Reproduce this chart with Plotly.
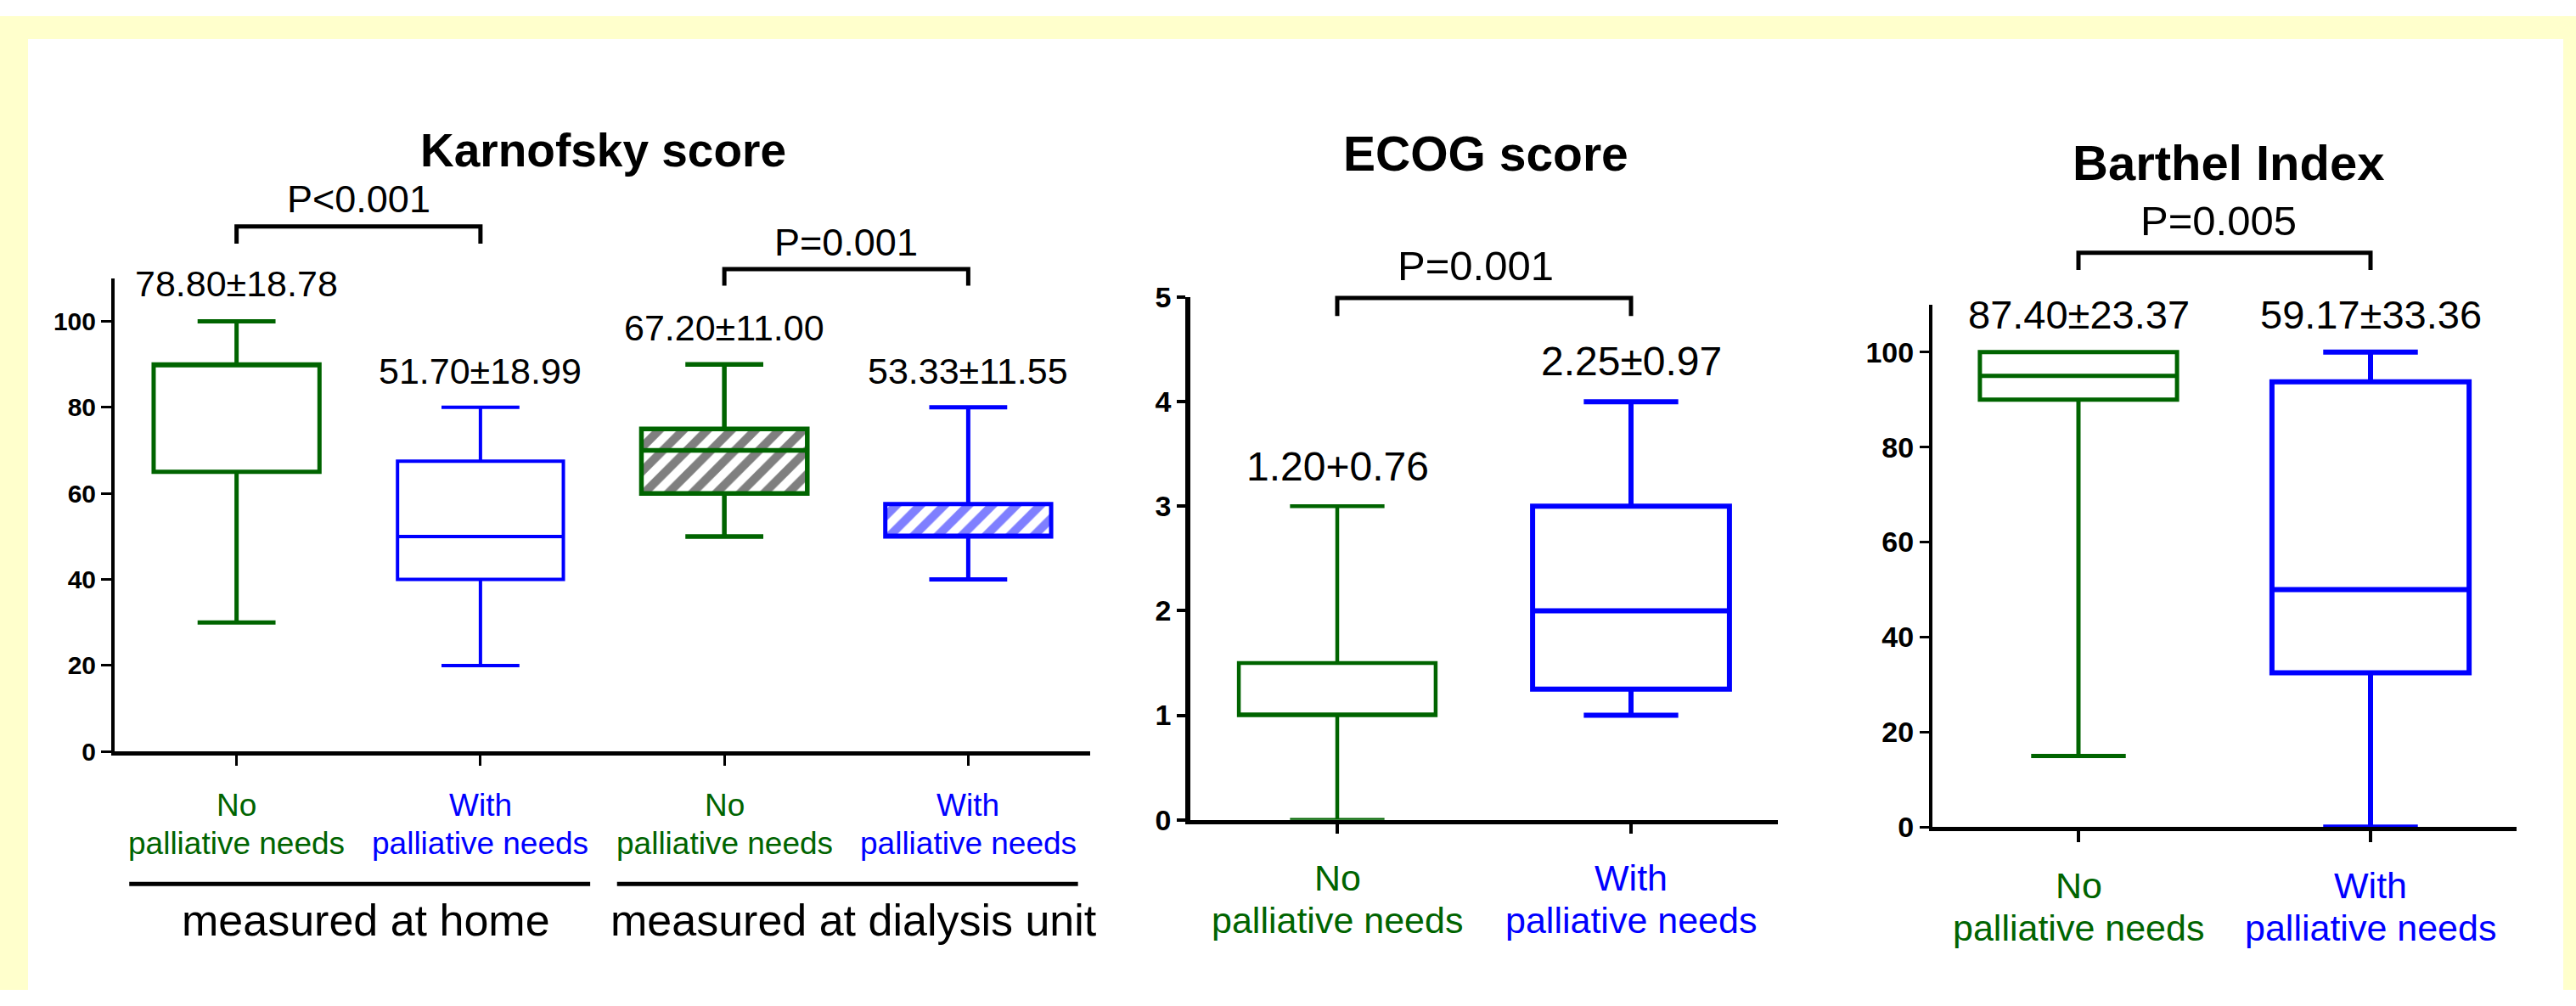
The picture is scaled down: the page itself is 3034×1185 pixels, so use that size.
import plotly.graph_objects as go

# ---------------- data ----------------
karn_group = ["No", "With", "No", "With"]
karn_q1 = [65, 40, 60, 50]
karn_median = [90, 50, 70, 50]
karn_q3 = [90, 67.5, 75, 57.5]
karn_low = [30, 20, 50, 40]
karn_high = [100, 80, 90, 80]
karn_stats = ["78.80±18.78", "51.70±18.99", "67.20±11.00", "53.33±11.55"]
karn_hatched = [False, False, True, True]
karn_pvalues = ["P<0.001", "P=0.001"]
karn_sites = ["measured at home", "measured at dialysis unit"]
karn_ticks = [0, 20, 40, 60, 80, 100]

ecog_group = ["No", "With"]
ecog_q1 = [1, 1.25]
ecog_median = [1, 2]
ecog_q3 = [1.5, 3]
ecog_low = [0, 1]
ecog_high = [3, 4]
ecog_stats = ["1.20+0.76", "2.25±0.97"]
ecog_pvalues = ["P=0.001"]
ecog_ticks = [0, 1, 2, 3, 4, 5]

barthel_group = ["No", "With"]
barthel_q1 = [90, 32.5]
barthel_median = [95, 50]
barthel_q3 = [100, 93.75]
barthel_low = [15, 0]
barthel_high = [100, 100]
barthel_stats = ["87.40±23.37", "59.17±33.36"]
barthel_pvalues = ["P=0.005"]
barthel_ticks = [0, 20, 40, 60, 80, 100]

sub_label = "palliative needs"

# ---------------- styling ----------------
W, H = 3034, 1185
GREEN = "#006400"
BLUE = "#0000FF"
YELLOW = "#FFFFCC"
FONT = "Arial, Liberation Sans, sans-serif"


def px(x):
    return x / W


def py(y):
    return 1 - y / H


def col(g):
    return GREEN if g == "No" else BLUE


fig = go.Figure()
annotations = []
shapes = []

# yellow frame (left, top, right) around the white page
for (x0, x1, y0, y1) in [(0, 33, 0, H), (0, W, 0, 28), (3019, W, 0, H)]:
    shapes.append(dict(type="rect", xref="paper", yref="paper", x0=px(x0), x1=px(x1),
                       y0=py(y1), y1=py(y0), fillcolor=YELLOW, line=dict(width=0), layer="below"))


def add_panel(axn, groups, q1, med, q3, lo, hi, hatched, box_w, whisk_w, lws):
    xa = "x" if axn == 1 else f"x{axn}"
    ya = "y" if axn == 1 else f"y{axn}"
    for i, g in enumerate(groups):
        if hatched and hatched[i]:
            fig.add_trace(go.Bar(
                x=[i], y=[q3[i] - q1[i]], base=[q1[i]], width=box_w,
                marker=dict(color="white", line=dict(width=0),
                            pattern=dict(shape="/", fgcolor="black" if g == "No" else BLUE,
                                         bgcolor="white", size=20, solidity=0.5)),
                showlegend=False, hoverinfo="skip", xaxis=xa, yaxis=ya))
    for i, g in enumerate(groups):
        fig.add_trace(go.Box(
            x=[i], q1=[q1[i]], median=[med[i]], q3=[q3[i]],
            lowerfence=[lo[i]], upperfence=[hi[i]],
            width=box_w, whiskerwidth=whisk_w, boxpoints=False,
            fillcolor="rgba(0,0,0,0)", line=dict(color=col(g), width=lws[i]),
            showlegend=False, hoverinfo="skip", xaxis=xa, yaxis=ya))


add_panel(1, karn_group, karn_q1, karn_median, karn_q3, karn_low, karn_high,
          karn_hatched, 0.68, 0.47, [5, 4, 5.5, 5])
add_panel(2, ecog_group, ecog_q1, ecog_median, ecog_q3, ecog_low, ecog_high,
          None, 0.67, 0.48, [4.5, 6])
add_panel(3, barthel_group, barthel_q1, barthel_median, barthel_q3, barthel_low, barthel_high,
          None, 0.675, 0.48, [5, 6])


def yaxis_cfg(dom, rng, ticks, fs, lw, tw, tl, anchor):
    return dict(domain=dom, range=rng, tickvals=ticks, showgrid=False, zeroline=False,
                showline=True, linecolor="black", linewidth=lw, ticks="outside",
                tickwidth=tw, ticklen=tl, tickcolor="black", anchor=anchor,
                tickfont=dict(family=FONT, size=fs, color="black", weight="bold"),
                fixedrange=True)


def xaxis_cfg(dom, rng, n, lw, tw, tl, anchor):
    return dict(domain=dom, range=rng, tickvals=list(range(n)), showticklabels=False,
                showgrid=False, zeroline=False, showline=True, linecolor="black",
                linewidth=lw, ticks="outside", tickwidth=tw, ticklen=tl, tickcolor="black",
                anchor=anchor, fixedrange=True)


fig.update_layout(
    xaxis=xaxis_cfg([px(135), px(1284)], [-0.5, 3.5], len(karn_group), 5, 3, 12, "y"),
    yaxis=yaxis_cfg([py(895), py(319)], [0, 110], karn_ticks, 30, 4, 3, 12, "x"),
    xaxis2=xaxis_cfg([px(1402), px(2094)], [-0.5, 1.5], len(ecog_group), 4.5, 4, 12, "y2"),
    yaxis2=yaxis_cfg([py(978), py(342)], [0, 5], ecog_ticks, 34, 5.5, 4, 10, "x2"),
    xaxis3=xaxis_cfg([px(2276), px(2964)], [-0.5, 1.5], len(barthel_group), 4.5, 4, 13, "y3"),
    yaxis3=yaxis_cfg([py(987), py(351)], [0, 110], barthel_ticks, 34, 4, 3, 11, "x3"),
)


def text(x, y, s, size, color="black", xref="paper", bold=False):
    annotations.append(dict(x=x, y=y, xref=xref, yref="paper", text=(f"<b>{s}</b>" if bold else s),
                            showarrow=False, xanchor="center", yanchor="middle",
                            font=dict(family=FONT, size=size, color=color)))


def bracket(xref, x0, x1, ytop, ybot, lw=5):
    shapes.append(dict(type="path", xref=xref, yref="paper",
                       path=f"M {x0},{py(ybot)} L {x0},{py(ytop)} L {x1},{py(ytop)} L {x1},{py(ybot)}",
                       line=dict(color="black", width=lw)))


# titles
text(px(710), py(163), "Karnofsky score", 55, bold=True)
text(px(1750), py(167), "ECOG score", 57, bold=True)
text(px(2624), py(178), "Barthel Index", 58, bold=True)

# Karnofsky annotations
karn_stat_y = [325, 432, 379, 432]
for i, s in enumerate(karn_stats):
    text(i, py(karn_stat_y[i]), s, 43, xref="x")
for i, g in enumerate(karn_group):
    text(i, py(960), g, 37, color=col(g), xref="x")
    text(i, py(1007), sub_label, 37, color=col(g), xref="x")
text(0.5, py(223), karn_pvalues[0], 45, xref="x")
bracket("x", 0, 1, 256, 277)
text(2.5, py(275), karn_pvalues[1], 45, xref="x")
bracket("x", 2, 3, 308, 328)
# measurement site group lines
for k, site in enumerate(karn_sites):
    x0, x1 = 2 * k - 0.44, 2 * k + 1.45
    shapes.append(dict(type="line", xref="x", yref="paper", x0=x0, x1=x1,
                       y0=py(1056), y1=py(1056), line=dict(color="black", width=5)))
    text(2 * k + 0.53, py(1100), site, 52, xref="x")

# ECOG annotations
ecog_stat_y = [548, 420]
for i, s in enumerate(ecog_stats):
    text(i, py(ecog_stat_y[i]), s, 48, xref="x2")
for i, g in enumerate(ecog_group):
    text(i, py(1049), g, 43, color=col(g), xref="x2")
    text(i, py(1100), sub_label, 43, color=col(g), xref="x2")
text(0.47, py(304), ecog_pvalues[0], 49, xref="x2")
bracket("x2", 0, 1, 343, 365)

# Barthel annotations
for i, s in enumerate(barthel_stats):
    text(i, py(363), s, 47, xref="x3")
for i, g in enumerate(barthel_group):
    text(i, py(1058), g, 43, color=col(g), xref="x3")
    text(i, py(1110), sub_label, 43, color=col(g), xref="x3")
text(0.48, py(249), barthel_pvalues[0], 49, xref="x3")
bracket("x3", 0, 1, 288, 309)

fig.update_layout(
    width=W, height=H, autosize=False,
    margin=dict(l=0, r=0, t=0, b=0, pad=0),
    paper_bgcolor="white", plot_bgcolor="rgba(0,0,0,0)",
    barmode="overlay", boxmode="overlay", showlegend=False,
    annotations=annotations, shapes=shapes,
    font=dict(family=FONT),
)

fig.write_html("out.html", config={"displayModeBar": False},
               post_script="document.body.style.margin='0px';document.body.style.overflow='hidden';")
